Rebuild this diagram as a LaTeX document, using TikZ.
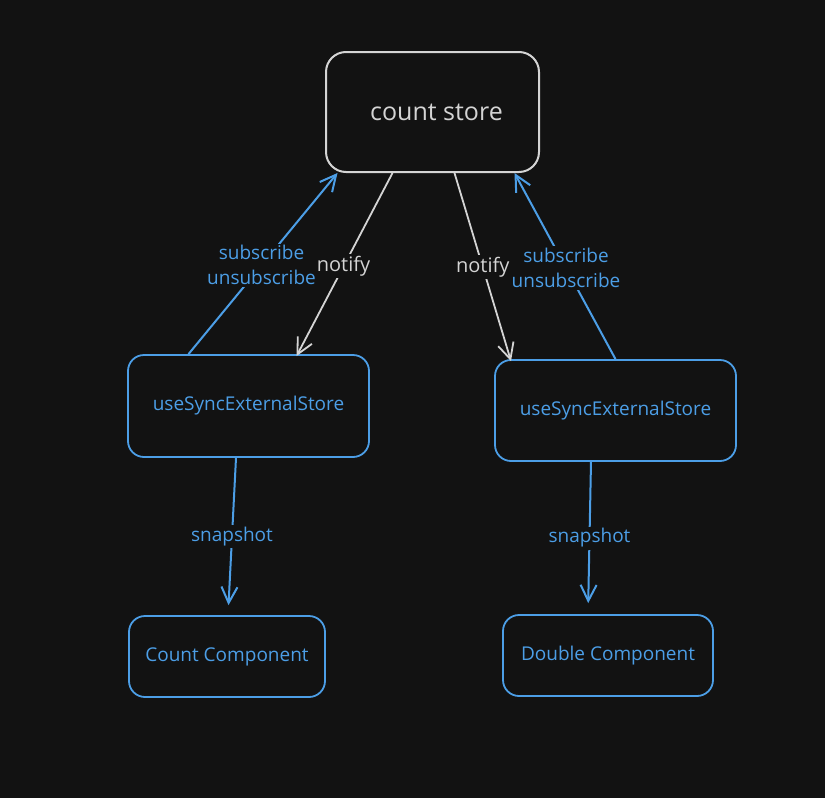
\documentclass[tikz,border=0pt]{standalone}
\usepackage{fontspec}
\setmainfont{Open Sans}
\usetikzlibrary{arrows.meta}
\definecolor{bg}{HTML}{121212}
\definecolor{blu}{HTML}{4C9EE6}
\definecolor{gry}{HTML}{D4D4D4}
\begin{document}
\begin{tikzpicture}[x=1pt,y=-1pt,
  box/.style={draw=blu,line width=1.8pt,rounded corners=16pt,text=blu,inner sep=0pt,font=\fontsize{19}{22}\selectfont},
  storebox/.style={draw=gry,line width=2pt,rounded corners=20pt,text=gry,inner sep=0pt,font=\fontsize{25}{28}\selectfont},
  bline/.style={draw=blu,line width=2pt,-{Straight Barb[length=16pt,width=16pt,line width=2pt]}},
  gline/.style={draw=gry,line width=1.8pt,-{Straight Barb[length=16pt,width=16pt,line width=1.8pt]}},
  blab/.style={fill=bg,text=blu,inner sep=2pt,align=center,font=\fontsize{19}{25}\selectfont},
  glab/.style={fill=bg,text=gry,inner sep=2pt,align=center,font=\fontsize{20}{25}\selectfont}]
\fill[bg] (0,0) rectangle (825,798);
\useasboundingbox (0,0) rectangle (825,798);
\node[storebox,minimum width=213pt,minimum height=120pt] (store) at (432.5,112) {\hspace*{8pt}count store};
\node[box,minimum width=241pt,minimum height=102pt] (luse) at (248.5,406) {useSyncExternalStore};
\node[box,minimum width=241pt,minimum height=101pt] (ruse) at (615.5,410.5) {useSyncExternalStore};
\node[box,minimum width=196pt,minimum height=81pt] (count) at (227,656.5) {Count Component};
\node[box,minimum width=210pt,minimum height=81pt] (double) at (608,655.5) {Double Component};
\draw[bline] ([xshift=-60pt]luse.north) -- node[blab,pos=0.49] (lsub) {subscribe\\unsubscribe} ([xshift=-95pt]store.south);
\draw[gline] ([xshift=-40pt]store.south) -- node[glab,pos=0.51] (lnot) {notify} ([xshift=48pt,yshift=-2pt]luse.north);
\draw[gline] ([xshift=22pt]store.south) -- node[glab,pos=0.5] (rnot) {notify} ([xshift=-104.5pt,yshift=-2pt]ruse.north);
\draw[bline] ([xshift=0pt]ruse.north) -- node[blab,pos=0.49] (rsub) {subscribe\\unsubscribe} ([xshift=82pt]store.south);
\draw[bline,shorten >=10pt] ([xshift=-12.5pt]luse.south) -- node[blab,pos=0.5] (lsnap) {snapshot} ([xshift=1pt]count.north);
\draw[bline,shorten >=11pt] ([xshift=-24.5pt]ruse.south) -- node[blab,pos=0.5] (rsnap) {snapshot} ([xshift=-20pt]double.north);
\end{tikzpicture}
\end{document}
